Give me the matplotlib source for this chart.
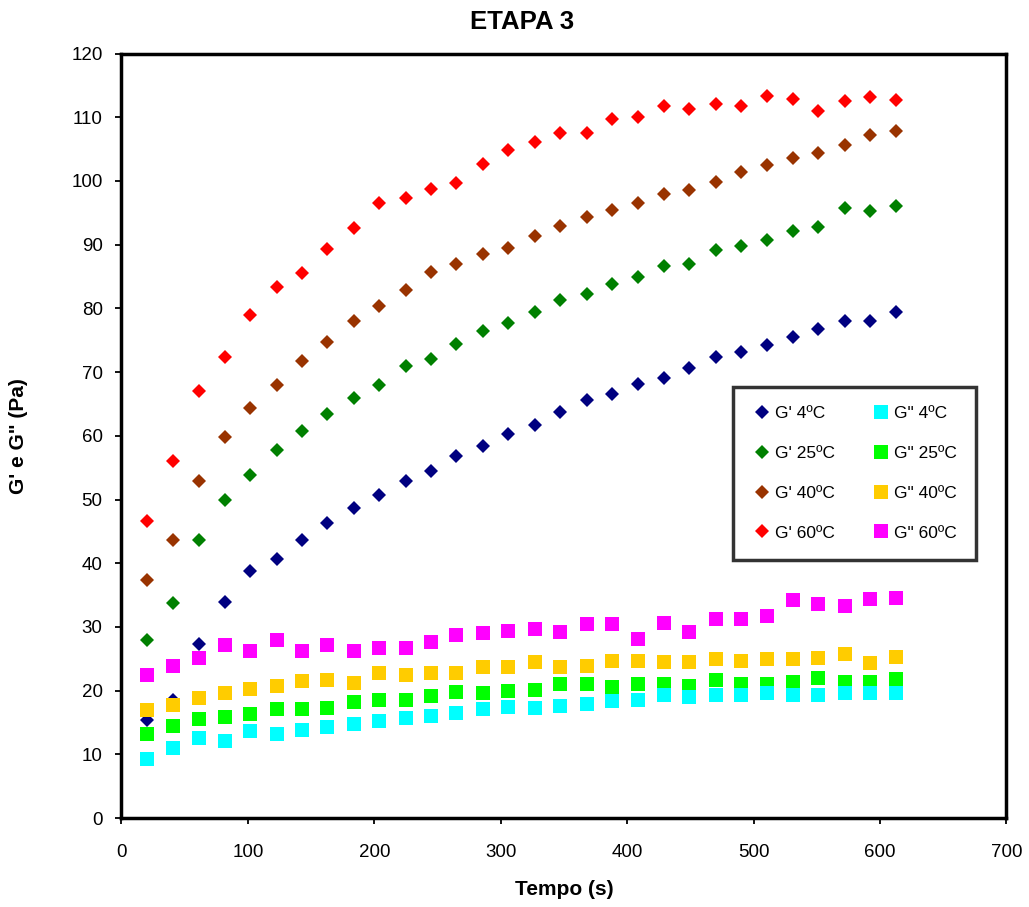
import matplotlib
matplotlib.use('Agg')
import matplotlib.pyplot as plt

plt.rcParams['font.family'] = ['Liberation Sans', 'DejaVu Sans']

# Tempo (s)
tempo = [20, 41, 61, 82, 102, 123, 143, 163, 184, 204, 225, 245, 265, 286, 306,
         327, 347, 368, 388, 409, 429, 449, 470, 490, 511, 531, 551, 572, 592, 613]

# G' (módulo de armazenamento)
g1_4 = [15.4, 18.5, 27.4, 33.9, 38.8, 40.6, 43.7, 46.3, 48.6, 50.7, 52.9, 54.5, 56.9, 58.4, 60.3,
        61.7, 63.8, 65.6, 66.6, 68.2, 69.1, 70.6, 72.3, 73.2, 74.2, 75.5, 76.8, 78.0, 78.0, 79.4]
g1_25 = [27.9, 33.8, 43.7, 50.0, 53.8, 57.8, 60.8, 63.4, 66.0, 68.0, 70.9, 72.1, 74.4, 76.4, 77.7,
         79.5, 81.3, 82.3, 83.9, 85.0, 86.7, 87.0, 89.2, 89.8, 90.7, 92.2, 92.7, 95.8, 95.3, 96.1]
g1_40 = [37.4, 43.7, 52.9, 59.8, 64.4, 68.0, 71.7, 74.7, 78.0, 80.3, 82.9, 85.7, 87.0, 88.5, 89.5,
         91.4, 92.9, 94.3, 95.5, 96.6, 97.9, 98.6, 99.8, 101.4, 102.5, 103.6, 104.4, 105.7, 107.2, 107.8]
g1_60 = [46.6, 56.0, 67.1, 72.4, 79.0, 83.4, 85.5, 89.3, 92.6, 96.6, 97.4, 98.7, 99.7, 102.7, 104.9,
         106.1, 107.5, 107.5, 109.8, 110.0, 111.7, 111.3, 112.1, 111.7, 113.3, 112.8, 111.0, 112.6, 113.1, 112.7]

# G" (módulo de perda)
g2_4 = [9.2, 11.0, 12.5, 12.1, 13.7, 13.2, 13.8, 14.3, 14.8, 15.3, 15.7, 16.1, 16.5, 17.2, 17.5,
        17.3, 17.6, 17.9, 18.4, 18.6, 19.3, 19.0, 19.4, 19.3, 19.6, 19.3, 19.4, 19.7, 19.7, 19.7]
g2_25 = [13.2, 14.5, 15.5, 15.9, 16.4, 17.1, 17.2, 17.3, 18.3, 18.5, 18.6, 19.2, 19.8, 19.7, 19.9,
         20.1, 21.1, 21.0, 20.6, 21.0, 21.1, 20.7, 21.7, 21.0, 21.1, 21.3, 22.0, 21.3, 21.3, 21.8]
g2_40 = [16.9, 17.8, 18.9, 19.6, 20.3, 20.8, 21.5, 21.7, 21.2, 22.7, 22.5, 22.7, 22.8, 23.7, 23.7,
         24.5, 23.7, 23.8, 24.6, 24.7, 24.5, 24.5, 25.0, 24.7, 25.0, 25.0, 25.2, 25.7, 24.4, 25.3]
g2_60 = [22.5, 23.9, 25.2, 27.1, 26.2, 28.0, 26.2, 27.2, 26.2, 26.7, 26.7, 27.7, 28.8, 29.1, 29.4,
         29.7, 29.2, 30.4, 30.4, 28.1, 30.7, 29.2, 31.2, 31.2, 31.7, 34.2, 33.6, 33.3, 34.4, 34.6]

fig = plt.figure(figsize=(10.29, 9.07), dpi=100)
ax = fig.add_axes([0.118, 0.098, 0.860, 0.843])

# G' com losangos
h_g1_4, = ax.plot(tempo, g1_4, 'D', color='#000080', ms=7.2, mew=0, label="G' 4ºC")
h_g1_25, = ax.plot(tempo, g1_25, 'D', color='#008000', ms=7.2, mew=0, label="G' 25ºC")
h_g1_40, = ax.plot(tempo, g1_40, 'D', color='#993300', ms=7.2, mew=0, label="G' 40ºC")
h_g1_60, = ax.plot(tempo, g1_60, 'D', color='#FF0000', ms=7.2, mew=0, label="G' 60ºC")

# G" com quadrados
h_g2_60, = ax.plot(tempo, g2_60, 's', color='#FF00FF', ms=10, mew=0, label='G" 60ºC')
h_g2_40, = ax.plot(tempo, g2_40, 's', color='#FFCC00', ms=10, mew=0, label='G" 40ºC')
h_g2_25, = ax.plot(tempo, g2_25, 's', color='#00FF00', ms=10, mew=0, label='G" 25ºC')
h_g2_4, = ax.plot(tempo, g2_4, 's', color='#00FFFF', ms=10, mew=0, label='G" 4ºC')

ax.set_xlim(0, 700)
ax.set_ylim(0, 120)
ax.set_xticks(range(0, 701, 100))
ax.set_yticks(range(0, 121, 10))

for s in ax.spines.values():
    s.set_linewidth(2.5)
ax.tick_params(direction='out', length=4.5, width=1.3, labelsize=13.5)
ax.tick_params(axis='x', pad=14)
ax.tick_params(axis='y', pad=9)

ax.set_xlabel('Tempo (s)', fontsize=15, fontweight='bold', labelpad=14)
ax.set_ylabel('G\' e G" (Pa)', fontsize=15, fontweight='bold', labelpad=31)
fig.text(0.507, 0.976, 'ETAPA 3', ha='center', va='center', fontsize=18.5, fontweight='bold')

handles = [h_g1_4, h_g1_25, h_g1_40, h_g1_60, h_g2_4, h_g2_25, h_g2_40, h_g2_60]
leg = ax.legend(handles=handles, labels=[h.get_label() for h in handles], ncol=2,
                loc='upper left', bbox_to_anchor=(0.691, 0.564), fontsize=12.5,
                frameon=True, fancybox=False, borderpad=1.1, labelspacing=1.42,
                columnspacing=2.1, handletextpad=0.1, handlelength=1.2,
                markerscale=0.95, borderaxespad=0)
leg.get_frame().set_edgecolor('black')
leg.get_frame().set_linewidth(2.5)

fig.savefig('out.png', dpi=100)
